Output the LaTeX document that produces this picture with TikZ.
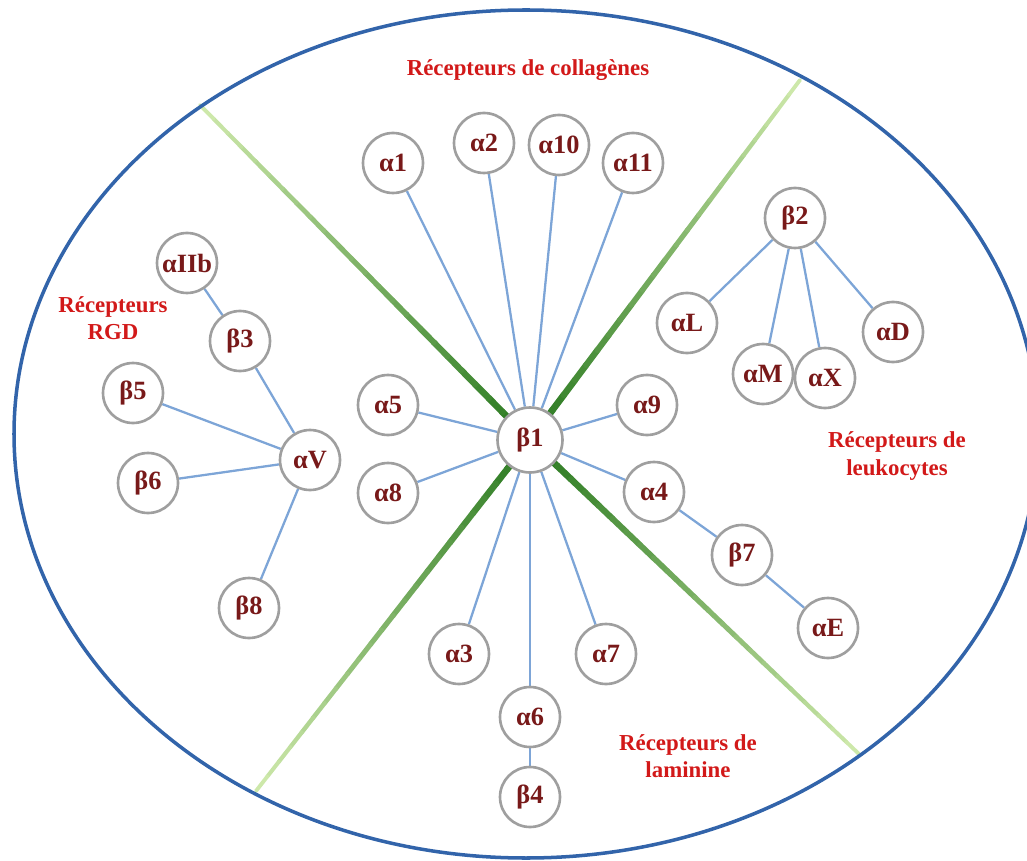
\documentclass[tikz,border=0pt]{standalone}
\usepackage{fontspec}
\setmainfont{Liberation Serif}
\usetikzlibrary{backgrounds,calc}
\definecolor{ringblue}{RGB}{50,100,170}
\definecolor{linkblue}{RGB}{125,165,215}
\definecolor{armdark}{RGB}{40,120,30}
\definecolor{armpale}{RGB}{205,232,170}
\definecolor{nodered}{RGB}{120,25,25}
\definecolor{labelred}{RGB}{210,25,25}
\begin{document}
\begin{tikzpicture}[x=0.02cm,y=-0.02cm,
  integ/.style={circle,draw=gray!75,line width=1.5pt,fill=white,minimum size=1.2cm,inner sep=0pt,
    text=nodered,font=\fontsize{15}{18}\selectfont\bfseries},
  link/.style={draw=linkblue,line width=1.3pt},
  famlabel/.style={text=labelred,font=\fontsize{13}{15.5}\selectfont\bfseries,align=center}]
\useasboundingbox (0,0) rectangle (1027,861);
\draw[ringblue,line width=2pt] (526,434) ellipse [x radius=512,y radius=424];
% integrins
\node[integ,minimum size=1.3cm] (b1) at (530,440) {β1};
\node[integ] (a1) at (393,163) {α1};
\node[integ] (a2) at (484,143) {α2};
\node[integ] (a10) at (559,145) {α10};
\node[integ] (a11) at (633,163) {α11};
\node[integ] (a5) at (388,405) {α5};
\node[integ] (a8) at (388,493) {α8};
\node[integ] (a9) at (647,405) {α9};
\node[integ] (a4) at (654,492) {α4};
\node[integ] (b7) at (742,555) {β7};
\node[integ] (aE) at (828,628) {αE};
\node[integ] (a3) at (459,654) {α3};
\node[integ] (a7) at (606,654) {α7};
\node[integ] (a6) at (530,717) {α6};
\node[integ] (b4) at (530,797) {β4};
\node[integ] (b2) at (795,218) {β2};
\node[integ] (aL) at (687,323) {αL};
\node[integ] (aM) at (763,374) {αM};
\node[integ] (aX) at (825,378) {αX};
\node[integ] (aD) at (893,332) {αD};
\node[integ] (aIIb) at (187,263) {αIIb};
\node[integ] (b3) at (240,341) {β3};
\node[integ] (b5) at (133,393) {β5};
\node[integ] (aV) at (310,460) {αV};
\node[integ] (b6) at (148,483) {β6};
\node[integ] (b8) at (249,608) {β8};
% families
\node[famlabel] (collag) at (528,70) {Récepteurs de collagènes};
\node[famlabel] (rgd) at (113,318) {Récepteurs\\RGD};
\node[famlabel] (leuko) at (897,456) {Récepteurs de\\leukocytes};
\node[famlabel] (lamin) at (688,756) {Récepteurs de\\laminine};
\coordinate (nw) at (200,105);
\coordinate (ne) at (800,80);
\coordinate (sw) at (256,791);
\coordinate (se) at (860,755);
\begin{scope}[on background layer]
\foreach \e in {nw,ne,sw,se}
  \foreach \i in {1,...,24}{
    \pgfmathtruncatemacro\pct{100-100*(\i-1)/23}
    \pgfmathsetmacro\wd{2.2+1.8*(1-\i/24)}
    \draw[line width=\wd pt,line cap=round,armdark!\pct!armpale]
      ($(b1.center)!{(\i-1)/24}!(\e)$) -- ($(b1.center)!{\i/24}!(\e)$);
  }
\foreach \t in {a1,a2,a10,a11,a5,a8,a9,a4,a3,a7,a6}
  \draw[link] (b1) -- (\t);
\draw[link] (a6) -- (b4);
\draw[link] (a4) -- (b7) -- (aE);
\foreach \t in {aL,aM,aX,aD}
  \draw[link] (b2) -- (\t);
\draw[link] (aIIb) -- (b3) -- (aV);
\foreach \t in {b5,b6,b8}
  \draw[link] (aV) -- (\t);
\end{scope}
\end{tikzpicture}
\end{document}
